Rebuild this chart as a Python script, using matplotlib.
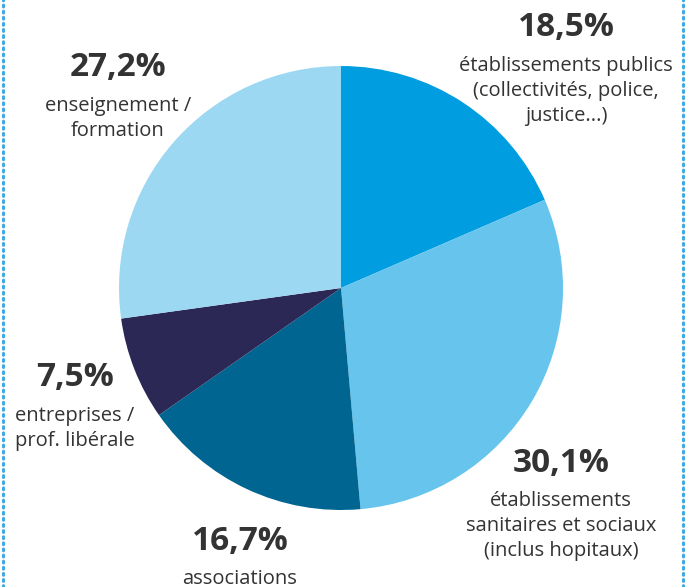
import matplotlib
matplotlib.use("Agg")
import matplotlib.pyplot as plt
from matplotlib.lines import Line2D

# parts, clockwise from the top
parts = [18.5, 30.1, 16.7, 7.5, 27.2]
pct_labels = ["18,5%", "30,1%", "16,7%", "7,5%", "27,2%"]
names = [
    ["établissements publics", "(collectivités, police,", "justice...)"],
    ["établissements", "sanitaires et sociaux", "(inclus hopitaux)"],
    ["associations"],
    ["entreprises /", "prof. libérale"],
    ["enseignement /", "formation"],
]
colors = ["#009ee0", "#66c4ed", "#006590", "#2b2856", "#9dd8f2"]

# where each label block sits (pixels, centre of the percentage)
label_pos = [(566, 28), (561, 463), (240, 541), (75, 378), (118, 68)]

plt.rcParams['font.family'] = ['Open Sans', 'DejaVu Sans']

W, H = 691, 587
fig = plt.figure(figsize=(W / 100, H / 100), dpi=100)

ax = fig.add_axes([119 / W, 1 - 510 / H, 444 / W, 444 / H])
ax.pie(parts, colors=colors, startangle=90, counterclock=False,
       radius=1, wedgeprops=dict(linewidth=0))
ax.set_xlim(-1, 1)
ax.set_ylim(-1, 1)
ax.set_aspect('equal')
ax.axis('off')

txt = "#333333"
for (px, py), p, n in zip(label_pos, pct_labels, names):
    fig.text(px / W, 1 - py / H, p, ha='center', va='center',
             fontsize=24, fontweight='bold', color=txt)
    for i, line in enumerate(n):
        fig.text(px / W, 1 - (py + 38 + 25 * i) / H, line, ha='center',
                 va='center', fontsize=14.5, color=txt)

# dotted frame on both sides
for x in (2.5, 682.5):
    fig.add_artist(Line2D([x / W, x / W], [0, 1], transform=fig.transFigure,
                          color="#3ea9e2", linewidth=2.2, linestyle=(0, (0.6, 1.4)),
                          dash_capstyle='round'))

fig.savefig("out.png", dpi=100)
